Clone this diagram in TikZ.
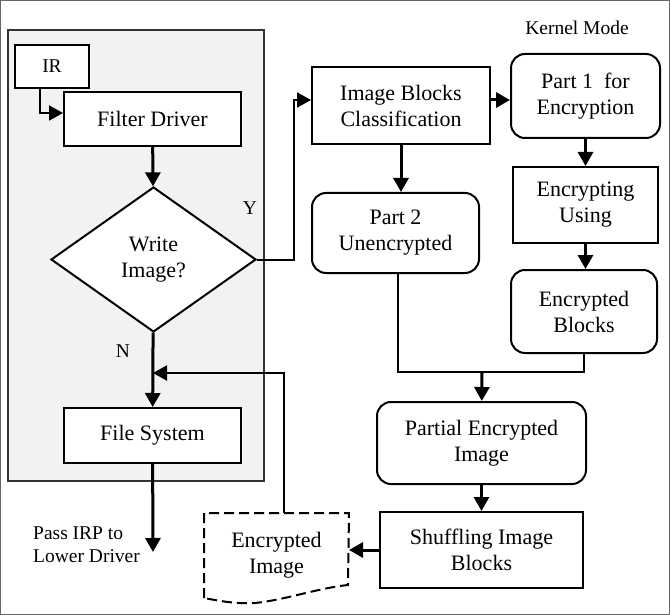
\documentclass[tikz,border=0pt]{standalone}
\usepackage{fontspec}
\setmainfont{Liberation Serif}
\usetikzlibrary{arrows.meta,shapes.geometric}

\begin{document}
\begin{tikzpicture}[x=1pt,y=1pt,
  box/.style={draw=black,line width=2pt,fill=white,align=center,inner sep=0pt,font=\fontsize{22}{26}\selectfont},
  rbox/.style={box,rounded corners=14pt},
  lbl/.style={inner sep=0pt,align=left,font=\fontsize{19.5}{23}\selectfont},
  arr/.style={line width=3pt,-{Triangle[length=14pt,width=15pt]}},
  thinarr/.style={line width=2pt,-{Triangle[length=14pt,width=15pt]}},
  ln/.style={line width=2pt}]
\useasboundingbox (0,0) rectangle (670,-615);
\draw [black!60, line width=1pt] (0.5,-0.5) rectangle (669.5,-614.5);
\draw [fill=black!5, draw=black!80, line width=1.5pt] (8,-30) rectangle (264,-481);

\node [box, minimum width=74, minimum height=43, font=\fontsize{19.5}{23}\selectfont] (ir) at (52,-66.5) {IR};
\node [box, minimum width=177, minimum height=54] (filter) at (152.5,-119) {Filter Driver};
\node [box, diamond, minimum width=205, minimum height=145] (write) at (153.5,-259.5) {Write\\Image?};
\node [box, minimum width=177, minimum height=55] (fs) at (152.5,-435.5) {File System};
\node [box, minimum width=178, minimum height=77] (ibc) at (401,-105.5) {Image Blocks\\Classification};
\node [rbox, minimum width=149, minimum height=84] (part1) at (585.5,-96) {Part 1 \ for\\Encryption};
\node [box, minimum width=145, minimum height=76] (enc) at (585.5,-205) {Encrypting\\Using};
\node [rbox, minimum width=146, minimum height=83] (encb) at (584,-311.5) {Encrypted\\Blocks};
\node [rbox, minimum width=167, minimum height=80] (part2) at (395.5,-233) {Part 2\\Unencrypted};
\node [rbox, minimum width=209, minimum height=82] (pei) at (481.5,-443) {Partial Encrypted\\Image};
\node [box, minimum width=203, minimum height=76] (shuf) at (481.5,-550) {Shuffling Image\\Blocks};
\node [box, draw=none, fill=none, minimum width=143, minimum height=83] (encimg) at (276.5,-555.5) {Encrypted\\Image};
\draw [ln, dash pattern=on 10pt off 5pt] (encimg.south west) -- (encimg.north west) -- (encimg.north east) -- (348,-585)
  .. controls (318,-588) and (285,-600) .. (255,-603) .. controls (235,-604) and (220,-601) .. (encimg.south west);

\node [lbl] (kernel) at (577,-28) {Kernel Mode};
\node [lbl] (ylbl) at (250,-208) {Y};
\node [lbl] (nlbl) at (123,-351) {N};
\node [lbl, anchor=west] (pass) at (33,-545) {Pass IRP to\\Lower Driver};
\coordinate (lower) at (153,-552);
\coordinate (fb) at (153,-373);
\coordinate (merge) at (482,-372);

\draw [thinarr] ([xshift=-12pt]ir.south) |- ([yshift=6pt]filter.west);
\draw [arr] (filter) -- (write);
\draw [arr] (write) -- (fs);
\draw [arr] (fs) -- (lower);
\draw [thinarr] (write.east) -- ++(37,0) |- ([yshift=5.5pt]ibc.west);
\draw [arr] ([yshift=5.5pt]ibc.east) -- ([yshift=5.5pt]ibc.east -| part1.west);
\draw [arr] (ibc.south) -- (ibc.south |- part2.north);
\draw [arr] (part1) -- (enc);
\draw [arr] (enc.south) -- (enc.south |- encb.north);
\draw [ln] ([xshift=2pt]part2.south) |- (merge) -| (encb.south);
\draw [arr] (merge) -- (pei);
\draw [arr] (pei) -- (shuf);
\draw [arr] (shuf.west) -- (shuf.west -| encimg.east);
\draw [thinarr] ([xshift=7pt]encimg.north) |- (fb);
\end{tikzpicture}
\end{document}
